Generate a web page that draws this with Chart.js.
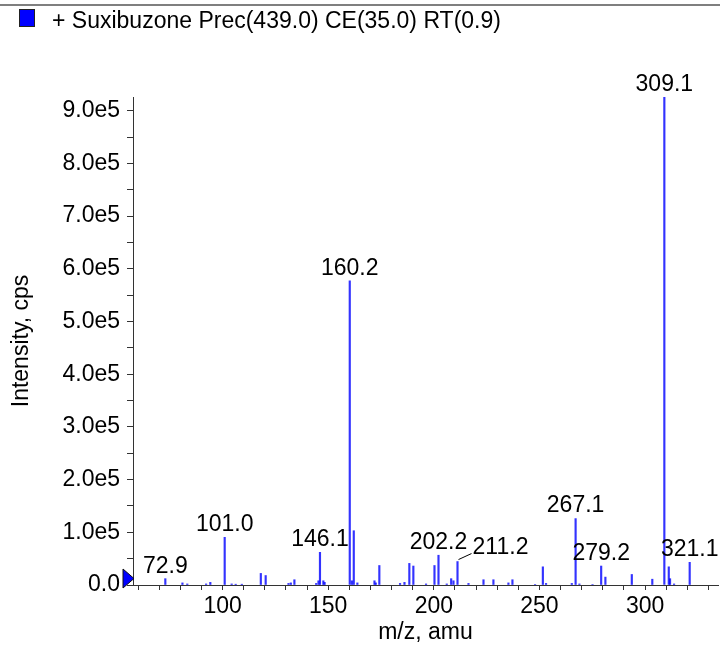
<!DOCTYPE html>
<html>
<head>
<meta charset="utf-8">
<script src="https://cdn.jsdelivr.net/npm/chart.js@4.4.1/dist/chart.umd.min.js"></script>
<style>
	html, body { margin: 0; padding: 0; background: #fff; }
	#wrap { width: 720px; height: 647px; }
</style>
</head>
<body>
<div id="wrap"><canvas id="spectrum" width="720" height="647"></canvas></div>
<script>
// header / dataset name
const sampleName = '+ Suxibuzone Prec(439.0) CE(35.0) RT(0.9)'

// peaks: m/z and intensity (cps)
const mzValues = [
	72.9, 81.0, 83.3, 92.2, 94.2, 101.0, 104.3, 106.2, 109.1, 118.1,
	120.4, 131.2, 132.3, 134.0, 144.3, 145.4, 146.1, 147.7, 148.3, 160.2,
	161.2, 162.1, 163.8, 171.9, 172.5, 174.2, 184.0, 186.1, 188.4, 190.3,
	196.3, 200.3, 202.2, 206.1, 208.2, 209.3, 211.2, 216.4, 223.5, 228.2,
	235.3, 237.2, 247.9, 251.6, 253.1, 265.3, 267.1, 268.9, 275.1, 279.2,
	281.2, 293.7, 303.4, 309.1, 311.2, 311.8, 313.7, 321.1
]
const intensities = [
	12000, 4000, 2000, 2000, 5000, 90500, 2000, 1500, 1500, 22000,
	18000, 3000, 4000, 10000, 3000, 8000, 62000, 8000, 5000, 577000,
	8000, 103000, 4000, 8000, 4000, 37000, 3000, 5000, 41000, 36000,
	2000, 37000, 56500, 2000, 12000, 8000, 44500, 3000, 10000, 10000,
	4000, 10000, 1000, 34500, 3000, 3000, 126000, 2000, 1000, 36000,
	15000, 20000, 11000, 926000, 34500, 12000, 2000, 43000
]

// annotated peaks
const labelMz = [72.9, 101.0, 146.1, 160.2, 202.2, 211.2, 267.1, 279.2, 309.1, 321.1]

// axis
const xMin = 57.6
const xMax = 334.5
const yMax = 926000
const xTickLabels = ['100', '150', '200', '250', '300']
const yTickLabels = ['0.0', '1.0e5', '2.0e5', '3.0e5', '4.0e5', '5.0e5', '6.0e5', '7.0e5', '8.0e5', '9.0e5']

const FONT = "'Liberation Sans', Arial, Helvetica, sans-serif"
const FSIZE = 23

const headerPlugin = {
	id: 'header',
	afterDraw(chart) {
		const c = chart.ctx
		c.save()
		c.strokeStyle = '#555'
		c.lineWidth = 1.5
		c.beginPath()
		c.moveTo(0, 5)
		c.lineTo(chart.width, 5)
		c.stroke()

		c.fillStyle = '#0000ff'
		c.fillRect(19, 9, 16, 18)
		c.strokeStyle = '#222'
		c.lineWidth = 1
		c.strokeRect(19.5, 9.5, 15, 17)

		c.fillStyle = '#000'
		c.font = FSIZE + 'px ' + FONT
		c.textBaseline = 'middle'
		c.textAlign = 'left'
		c.fillText(sampleName, 52, 22)
		c.restore()
	}
}

const peakLabelPlugin = {
	id: 'peakLabels',
	afterDatasetsDraw(chart) {
		const c = chart.ctx
		const xs = chart.scales.x
		const ys = chart.scales.y
		c.save()
		c.font = FSIZE + 'px ' + FONT
		c.fillStyle = '#000'
		c.textAlign = 'center'
		c.textBaseline = 'middle'
		labelMz.forEach(mz => {
			const i = mzValues.indexOf(mz)
			const px = xs.getPixelForValue(mz)
			const top = ys.getPixelForValue(intensities[i])
			if (mz === 211.2) {
				// label pushed to the right with a small leader line
				c.strokeStyle = '#000'
				c.lineWidth = 1
				c.beginPath()
				c.moveTo(px + 1, top - 2)
				c.lineTo(px + 14, top - 8)
				c.stroke()
				c.fillText(mz.toFixed(1), px + 43, top - 14)
			} else {
				c.fillText(mz.toFixed(1), px, top - 12.5)
			}
		})
		c.restore()
	}
}

const baseMarkerPlugin = {
	id: 'baseMarker',
	afterDraw(chart) {
		const c = chart.ctx
		const left = chart.chartArea.left
		const y0 = chart.scales.y.getPixelForValue(0)
		c.save()
		c.fillStyle = '#0000ff'
		c.strokeStyle = '#111'
		c.lineWidth = 1
		c.beginPath()
		c.moveTo(left - 10, y0 - 16)
		c.lineTo(left + 1, y0 - 6.5)
		c.lineTo(left - 10, y0 + 3)
		c.closePath()
		c.fill()
		c.stroke()
		c.restore()
	}
}

const points = mzValues.map((mz, i) => ({ x: mz, y: intensities[i] }))

new Chart(document.getElementById('spectrum'), {
	type: 'bar',
	data: {
		datasets: [{
			label: sampleName,
			data: points,
			backgroundColor: 'rgba(0, 0, 255, 0.8)',
			borderWidth: 0,
			barThickness: 1.5
		}]
	},
	options: {
		responsive: false,
		animation: false,
		devicePixelRatio: 1,
		layout: { padding: { top: 97, right: 2, left: 0, bottom: 0 } },
		plugins: {
			legend: { display: false },
			tooltip: { enabled: false }
		},
		scales: {
			x: {
				type: 'linear',
				offset: false,
				min: xMin,
				max: xMax,
				afterFit(scale) { scale.height = 62 },
				afterBuildTicks(scale) {
					const ticks = []
					for (let v = Math.ceil(xMin / 10) * 10; v <= xMax; v += 10) ticks.push({ value: v })
					scale.ticks = ticks
				},
				border: { color: '#333', width: 1 },
				grid: { offset: false, drawOnChartArea: false, drawTicks: true, tickLength: 5, color: '#333' },
				ticks: {
					autoSkip: false,
					maxRotation: 0,
					padding: 3,
					color: '#000',
					font: { family: FONT, size: FSIZE },
					callback: v => xTickLabels.includes(String(v)) ? String(v) : ''
				},
				title: {
					display: true,
					text: 'm/z, amu',
					color: '#000',
					font: { family: FONT, size: FSIZE },
					padding: { top: 0, bottom: 1 }
				}
			},
			y: {
				min: 0,
				max: yMax,
				afterFit(scale) { scale.width = 133 },
				afterBuildTicks(scale) {
					const ticks = []
					for (let v = 0; v <= yMax; v += 50000) ticks.push({ value: v })
					scale.ticks = ticks
				},
				border: { color: '#333', width: 1 },
				grid: { drawOnChartArea: false, drawTicks: true, tickLength: 6, color: '#333' },
				ticks: {
					autoSkip: false,
					padding: 7,
					color: '#000',
					font: { family: FONT, size: FSIZE },
					callback: v => (v % 100000 === 0 ? yTickLabels[v / 100000] : '')
				},
				title: {
					display: true,
					text: 'Intensity, cps',
					color: '#000',
					font: { family: FONT, size: FSIZE },
					padding: { top: 8, bottom: 0 }
				}
			}
		}
	},
	plugins: [headerPlugin, peakLabelPlugin, baseMarkerPlugin]
})
</script>
</body>
</html>
